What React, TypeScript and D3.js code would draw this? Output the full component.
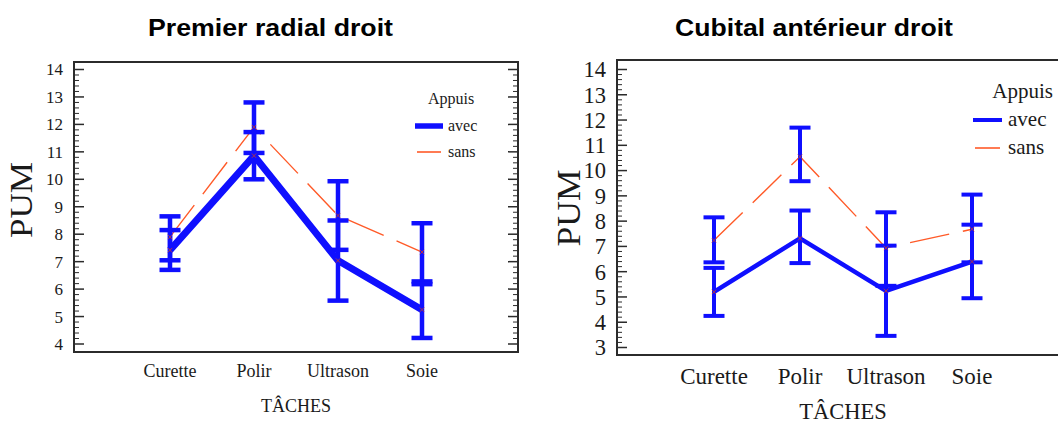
import { useEffect, useRef } from 'react';
import * as d3 from 'd3';

// tâches (x categories), shared by both panels
const categories = ['Curette', 'Polir', 'Ultrason', 'Soie'];

// Premier radial droit
const radialAvecMean = [7.42, 10.86, 7.04, 5.25];
const radialAvecLow = [6.7, 10.0, 5.58, 4.22];
const radialAvecHigh = [8.15, 11.72, 8.5, 6.28];
const radialSansMean = [7.9, 11.9, 8.68, 7.35];
const radialSansLow = [7.05, 10.96, 7.43, 6.18];
const radialSansHigh = [8.65, 12.8, 9.93, 8.4];
const radialTicks = [4, 5, 6, 7, 8, 9, 10, 11, 12, 13, 14];

// Cubital antérieur droit
const cubitalAvecMean = [5.2, 7.32, 5.24, 6.4];
const cubitalAvecLow = [4.25, 6.34, 3.46, 4.95];
const cubitalAvecHigh = [6.15, 8.42, 7.03, 7.86];
const cubitalSansMean = [7.24, 10.55, 6.94, 7.68];
const cubitalSansLow = [6.37, 9.58, 5.44, 6.37];
const cubitalSansHigh = [8.15, 11.7, 8.35, 9.05];
const cubitalTicks = [3, 4, 5, 6, 7, 8, 9, 10, 11, 12, 13, 14];

const BLUE = '#0f0fff';
const ORANGE = '#ff5a28';
const INK = '#1a1a1a';
const SERIF = '"Liberation Serif", "Times New Roman", serif';

type Panel = {
	title: string;
	titleX: number;
	titleLen: number;
	ticks: number[];
	avec: { mean: number[]; low: number[]; high: number[] };
	sans: { mean: number[]; low: number[]; high: number[] };
	frame: { x0: number; x1: number; y0: number; y1: number };
	yRange: [number, number];
	xRange: [number, number];
	rightTicks: boolean;
	tickFont: number;
	catFont: number;
	catY: number;
	axisFont: number;
	axisY: number;
	pum: { x: number; y: number; size: number; len: number };
	lineW: number;
	barW: number;
	capW: number;
	legend: { x: number; y: number; font: number; swatch: number; textX: number; gap: number; thick: number };
};

const panels: Panel[] = [
	{
		title: 'Premier radial droit',
		titleX: 270.5,
		titleLen: 245,
		ticks: radialTicks,
		avec: { mean: radialAvecMean, low: radialAvecLow, high: radialAvecHigh },
		sans: { mean: radialSansMean, low: radialSansLow, high: radialSansHigh },
		frame: { x0: 74, x1: 518, y0: 62, y1: 352 },
		yRange: [344, 69.5],
		xRange: [170, 422],
		rightTicks: true,
		tickFont: 17,
		catFont: 18,
		catY: 377,
		axisFont: 18,
		axisY: 412,
		pum: { x: 32, y: 200, size: 31, len: 76 },
		lineW: 7,
		barW: 4.5,
		capW: 21,
		legend: { x: 415, y: 104, font: 16, swatch: 28, textX: 448, gap: 26, thick: 5.5 },
	},
	{
		title: 'Cubital antérieur droit',
		titleX: 814,
		titleLen: 278,
		ticks: cubitalTicks,
		avec: { mean: cubitalAvecMean, low: cubitalAvecLow, high: cubitalAvecHigh },
		sans: { mean: cubitalSansMean, low: cubitalSansLow, high: cubitalSansHigh },
		frame: { x0: 617, x1: 1066, y0: 60, y1: 355 },
		yRange: [347.5, 69.5],
		xRange: [714, 972],
		rightTicks: false,
		tickFont: 22.5,
		catFont: 23,
		catY: 384,
		axisFont: 22.5,
		axisY: 419,
		pum: { x: 580, y: 208, size: 33, len: 77 },
		lineW: 4.5,
		barW: 4,
		capW: 21,
		legend: { x: 973, y: 98, font: 21, swatch: 29, textX: 1008, gap: 28, thick: 4 },
	},
];

function drawPanel(svg: d3.Selection<SVGSVGElement, unknown, null, undefined>, p: Panel) {
	const g = svg.append('g');
	const x = d3.scalePoint<string>().domain(categories).range(p.xRange);
	const y = d3
		.scaleLinear()
		.domain([p.ticks[0], p.ticks[p.ticks.length - 1]])
		.range(p.yRange);
	const { x0, x1, y0, y1 } = p.frame;

	// title
	g.append('text')
		.attr('x', p.titleX)
		.attr('y', 35.5)
		.attr('text-anchor', 'middle')
		.attr('textLength', p.titleLen)
		.attr('lengthAdjust', 'spacingAndGlyphs')
		.style('font-family', '"Liberation Sans", Arial, sans-serif')
		.style('font-weight', 'bold')
		.style('font-size', '24.5px')
		.style('fill', '#000')
		.text(p.title);

	// frame
	g.append('rect')
		.attr('x', x0)
		.attr('y', y0)
		.attr('width', x1 - x0)
		.attr('height', y1 - y0)
		.attr('fill', 'none')
		.attr('stroke', '#2b2b2b')
		.attr('stroke-width', 2);

	// major + minor ticks, inside the frame
	const lo = p.ticks[0];
	const hi = p.ticks[p.ticks.length - 1];
	const minor = d3.range(lo, hi + 0.001, 0.2);
	minor.forEach(v => {
		const major = Math.abs(v - Math.round(v)) < 0.01;
		const len = major ? 10 : 5;
		g.append('line')
			.attr('x1', x0)
			.attr('x2', x0 + len)
			.attr('y1', y(v))
			.attr('y2', y(v))
			.attr('stroke', '#2b2b2b')
			.attr('stroke-width', major ? 1.5 : 1);
		if (p.rightTicks) {
			g.append('line')
				.attr('x1', x1)
				.attr('x2', x1 - len)
				.attr('y1', y(v))
				.attr('y2', y(v))
				.attr('stroke', '#2b2b2b')
				.attr('stroke-width', major ? 1.5 : 1);
		}
	});

	g.selectAll('text.tick')
		.data(p.ticks)
		.enter()
		.append('text')
		.attr('class', 'tick')
		.attr('x', x0 - 11)
		.attr('y', d => y(d))
		.attr('dy', '0.35em')
		.attr('text-anchor', 'end')
		.style('font-family', SERIF)
		.style('font-size', `${p.tickFont}px`)
		.style('fill', INK)
		.text(d => d);

	// category labels
	g.selectAll('text.cat')
		.data(categories)
		.enter()
		.append('text')
		.attr('class', 'cat')
		.attr('x', d => x(d) as number)
		.attr('y', p.catY)
		.attr('text-anchor', 'middle')
		.style('font-family', SERIF)
		.style('font-size', `${p.catFont}px`)
		.style('fill', INK)
		.text(d => d);

	g.append('text')
		.attr('x', (p.xRange[0] + p.xRange[1]) / 2)
		.attr('y', p.axisY)
		.attr('text-anchor', 'middle')
		.style('font-family', SERIF)
		.style('font-size', `${p.axisFont}px`)
		.style('fill', INK)
		.text('TÂCHES');

	g.append('text')
		.attr('transform', `translate(${p.pum.x}, ${p.pum.y}) rotate(-90)`)
		.attr('text-anchor', 'middle')
		.attr('textLength', p.pum.len)
		.attr('lengthAdjust', 'spacingAndGlyphs')
		.style('font-family', SERIF)
		.style('font-size', `${p.pum.size}px`)
		.style('fill', INK)
		.text('PUM');

	// sans: thin dashed orange line
	const line = d3
		.line<number>()
		.x((_, i) => x(categories[i]) as number)
		.y(d => y(d));

	g.append('path')
		.datum(p.sans.mean)
		.attr('fill', 'none')
		.attr('stroke', ORANGE)
		.attr('stroke-width', 1.4)
		.attr('stroke-dasharray', '40,14')
		.attr('d', line);

	// error bars for both series, drawn in blue
	[p.avec, p.sans].forEach(s => {
		categories.forEach((c, i) => {
			const cx = x(c) as number;
			g.append('line')
				.attr('x1', cx)
				.attr('x2', cx)
				.attr('y1', y(s.low[i]))
				.attr('y2', y(s.high[i]))
				.attr('stroke', BLUE)
				.attr('stroke-width', p.barW);
			[s.low[i], s.high[i]].forEach(v => {
				g.append('line')
					.attr('x1', cx - p.capW / 2)
					.attr('x2', cx + p.capW / 2)
					.attr('y1', y(v))
					.attr('y2', y(v))
					.attr('stroke', BLUE)
					.attr('stroke-width', p.barW);
			});
		});
	});

	// avec: thick blue line
	g.append('path')
		.datum(p.avec.mean)
		.attr('fill', 'none')
		.attr('stroke', BLUE)
		.attr('stroke-width', p.lineW)
		.attr('stroke-linejoin', 'round')
		.attr('d', line);

	// little red marks on the means
	const mark = d3.symbol().type(d3.symbolTimes).size(14);
	[p.avec.mean, p.sans.mean].forEach(m => {
		g.selectAll(null)
			.data(m)
			.enter()
			.append('path')
			.attr('transform', (d, i) => `translate(${x(categories[i])}, ${y(d)})`)
			.attr('d', mark)
			.attr('fill', 'none')
			.attr('stroke', '#d23c1e')
			.attr('stroke-width', 0.8);
	});

	// legend
	const L = p.legend;
	g.append('text')
		.attr('x', L.textX + (p.rightTicks ? -20 : 45))
		.attr('y', L.y)
		.attr('text-anchor', p.rightTicks ? 'start' : 'end')
		.style('font-family', SERIF)
		.style('font-size', `${L.font}px`)
		.style('fill', INK)
		.text('Appuis');

	const items = [
		{ label: 'avec', color: BLUE, w: L.thick },
		{ label: 'sans', color: ORANGE, w: 1.6 },
	];
	items.forEach((it, i) => {
		const ly = L.y + 22 + i * L.gap;
		g.append('line')
			.attr('x1', L.x + (i ? 2 : 0))
			.attr('x2', L.x + L.swatch - (i ? 2 : 0))
			.attr('y1', ly)
			.attr('y2', ly)
			.attr('stroke', it.color)
			.attr('stroke-width', it.w);
		g.append('text')
			.attr('x', L.textX)
			.attr('y', ly)
			.attr('dy', '0.3em')
			.style('font-family', SERIF)
			.style('font-size', `${L.font}px`)
			.style('fill', INK)
			.text(it.label);
	});
}

export default function App() {
	const ref = useRef<SVGSVGElement | null>(null);

	useEffect(() => {
		if (!ref.current) return;
		const svg = d3.select(ref.current);
		svg.selectAll('*').remove();
		panels.forEach(p => drawPanel(svg, p));
	}, []);

	return (
		<svg
			ref={ref}
			width={1058}
			height={423}
			style={{ position: 'absolute', left: 0, top: 0, background: '#fff', overflow: 'hidden' }}
		/>
	);
}
